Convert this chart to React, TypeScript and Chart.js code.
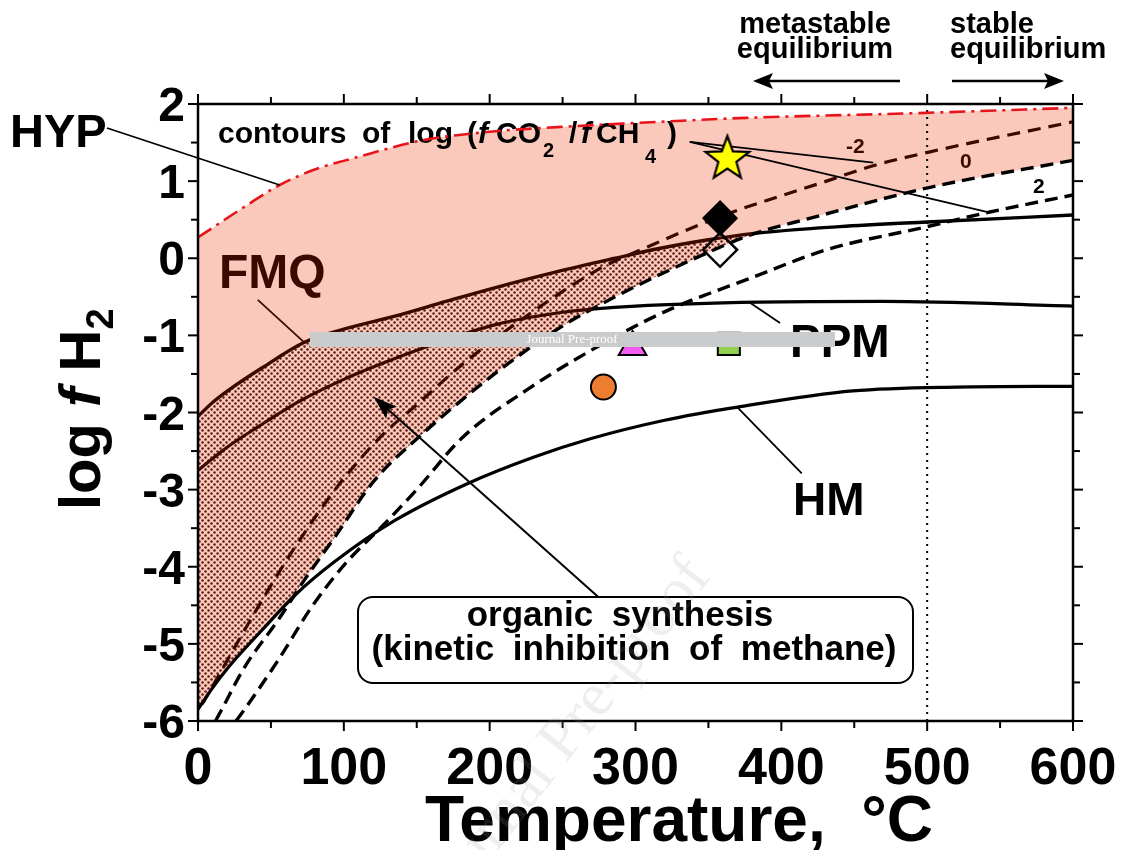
import { useEffect, useRef } from 'react';
import { Chart, registerables } from 'chart.js';

Chart.register(...registerables);

// ---------- axes ----------
const xTickValues = [0, 100, 200, 300, 400, 500, 600];
const yTickValues = [2, 1, 0, -1, -2, -3, -4, -5, -6];

// ---------- curves: temperature (°C) -> log fH2 ----------
const hypT = [0, 28, 56, 80, 109, 154, 200, 246, 296, 376, 490, 600];
const hypY = [0.27, 0.62, 0.95, 1.15, 1.31, 1.53, 1.64, 1.7, 1.75, 1.82, 1.88, 1.95];

const fmqT = [0, 10, 21, 44, 73, 100, 135, 170, 204, 245, 286, 317, 350, 380, 440, 500, 600];
const fmqY = [-2.05, -1.87, -1.71, -1.42, -1.09, -0.92, -0.75, -0.56, -0.38, -0.18, 0.0, 0.13, 0.24, 0.32, 0.41, 0.47, 0.56];

const ppmT = [0, 20, 40, 70, 100, 135, 170, 204, 250, 270, 300, 385, 470, 600];
const ppmY = [-2.75, -2.45, -2.2, -1.85, -1.57, -1.3, -1.06, -0.86, -0.7, -0.66, -0.62, -0.57, -0.56, -0.62];

const hmT = [0, 10, 21, 44, 67, 94, 135, 185, 230, 269, 320, 370, 449, 520, 600];
const hmY = [-5.85, -5.57, -5.3, -4.82, -4.36, -3.93, -3.4, -2.92, -2.58, -2.34, -2.1, -1.93, -1.72, -1.67, -1.66];

// contours of log(fCO2/fCH4)
const minus2T = [3, 25, 45, 66, 94, 126, 150, 181, 226, 277, 305, 358, 431, 463, 502, 600];
const minus2Y = [-5.78, -5.05, -4.4, -3.76, -3.0, -2.3, -1.9, -1.38, -0.74, -0.12, 0.12, 0.54, 1.0, 1.2, 1.38, 1.77];

const zeroT = [12, 16, 32, 55, 73, 94, 121, 149, 204, 249, 286, 351, 380, 422, 502, 600];
const zeroY = [-6.0, -5.86, -5.3, -4.69, -4.17, -3.61, -2.88, -2.36, -1.49, -0.89, -0.5, 0.085, 0.31, 0.53, 0.92, 1.27];

const plus2T = [26, 30, 55, 78, 101, 126, 150, 181, 226, 286, 324, 380, 431, 500, 543, 600];
const plus2Y = [-6.0, -5.9, -5.21, -4.52, -3.96, -3.48, -3.0, -2.33, -1.7, -1.02, -0.66, -0.25, 0.11, 0.41, 0.6, 0.82];

const stableBoundaryT = [500, 500];
const stableBoundaryY = [-6, 2];

// colour switch (curve leaves the shaded field)
const fmqBrownUntil = 380;
const ppmBrownUntil = 270;

// ---------- sample markers ----------
const starPoint = [{ x: 363, y: 1.3 }];
const filledDiamondPoint = [{ x: 358, y: 0.52 }];
const openDiamondPoint = [{ x: 358, y: 0.11 }];
const trianglePoint = [{ x: 298, y: -1.15 }];
const squarePoint = [{ x: 364, y: -1.11 }];
const circlePoint = [{ x: 278, y: -1.67 }];

// ---------- annotation layout (data units) ----------
const leaderLines = [
  [41, -0.54, 73.4, -1.1],
  [378.8, -0.58, 399.1, -0.84],
  [369.4, -1.925, 414, -2.79],
  [337.2, 1.51, 463, 1.24],
  [337.2, 1.51, 543, 0.59],
];
const hypLeaderEnd = [56, 0.95];
const organicArrow = [274.3, -4.39, 120.4, -1.795];

// ---------- styles ----------
const BROWN = '#3b0900';
const PINK = 'rgb(251,201,187)';
const RED = '#e8141c';
const SANS = '"Liberation Sans", Arial, Helvetica, sans-serif';
const SERIF = '"Liberation Serif", "Times New Roman", serif';

const zip = (t: number[], y: number[]) => t.map((v, i) => ({ x: v, y: y[i] }));

function makeStipple(ctx: CanvasRenderingContext2D) {
  const c = document.createElement('canvas');
  c.width = 6;
  c.height = 6;
  const g = c.getContext('2d')!;
  g.fillStyle = PINK;
  g.fillRect(0, 0, 6, 6);
  g.fillStyle = '#5e1a10';
  [[1.5, 1.5], [4.5, 4.5]].forEach(([x, y]) => {
    g.beginPath();
    g.arc(x, y, 1.25, 0, Math.PI * 2);
    g.fill();
  });
  return ctx.createPattern(c, 'repeat')!;
}

function makeStar() {
  const c = document.createElement('canvas');
  c.width = 52;
  c.height = 52;
  const g = c.getContext('2d')!;
  const cx = 26, cy = 27, R = 23, r = 9.5;
  g.beginPath();
  for (let i = 0; i < 10; i++) {
    const rad = (Math.PI / 5) * i - Math.PI / 2;
    const rr = i % 2 === 0 ? R : r;
    const x = cx + Math.cos(rad) * rr;
    const y = cy + Math.sin(rad) * rr;
    if (i === 0) g.moveTo(x, y);
    else g.lineTo(x, y);
  }
  g.closePath();
  g.fillStyle = '#ffff00';
  g.fill();
  g.lineWidth = 2.2;
  g.lineJoin = 'miter';
  g.strokeStyle = '#000';
  g.stroke();
  return c;
}

function trace(ctx: CanvasRenderingContext2D, pts: any[], move = true) {
  pts.forEach((p, i) => {
    if (i === 0) {
      if (move) ctx.moveTo(p.x, p.y);
      else ctx.lineTo(p.x, p.y);
      return;
    }
    const q = pts[i - 1];
    ctx.bezierCurveTo(q.cp2x ?? q.x, q.cp2y ?? q.y, p.cp1x ?? p.x, p.cp1y ?? p.y, p.x, p.y);
  });
}

function line(ctx: CanvasRenderingContext2D, x1: number, y1: number, x2: number, y2: number) {
  ctx.beginPath();
  ctx.moveTo(x1, y1);
  ctx.lineTo(x2, y2);
  ctx.stroke();
}

function arrowHead(ctx: CanvasRenderingContext2D, x1: number, y1: number, x2: number, y2: number, len: number, half: number) {
  const a = Math.atan2(y2 - y1, x2 - x1);
  ctx.beginPath();
  ctx.moveTo(x2, y2);
  ctx.lineTo(x2 - len * Math.cos(a) + half * Math.sin(a), y2 - len * Math.sin(a) - half * Math.cos(a));
  ctx.lineTo(x2 - len * 0.8 * Math.cos(a), y2 - len * 0.8 * Math.sin(a));
  ctx.lineTo(x2 - len * Math.cos(a) - half * Math.sin(a), y2 - len * Math.sin(a) + half * Math.cos(a));
  ctx.closePath();
  ctx.fill();
}

function text(ctx: CanvasRenderingContext2D, s: string, x: number, y: number, font: string, color = '#000', align: CanvasTextAlign = 'left') {
  ctx.font = font;
  ctx.fillStyle = color;
  ctx.textAlign = align;
  ctx.textBaseline = 'alphabetic';
  ctx.fillText(s, x, y);
}

export default function App() {
  const ref = useRef<HTMLCanvasElement>(null);

  useEffect(() => {
    const canvas = ref.current!;
    const c2d = canvas.getContext('2d')!;
    const stipple = makeStipple(c2d);
    const star = makeStar();

    const lineDs = (label: string, T: number[], Y: number[], color: string, width: number, dash: number[] = [], extra: any = {}) => ({
      label,
      data: zip(T, Y),
      borderColor: color,
      borderWidth: width,
      borderDash: dash,
      pointRadius: 0,
      pointHoverRadius: 0,
      showLine: true,
      fill: false,
      cubicInterpolationMode: 'monotone',
      ...extra,
    });

    const markerDs = (label: string, data: any[], style: any, radius: number, bg: string, bw: number) => ({
      label,
      data,
      showLine: false,
      pointStyle: style,
      pointRadius: radius,
      pointHoverRadius: radius,
      pointBackgroundColor: bg,
      pointBorderColor: '#000',
      pointBorderWidth: bw,
    });

    const fieldPlugin = {
      id: 'fields',
      beforeDatasetsDraw(chart: any) {
        const { ctx, chartArea: a, scales } = chart;
        const X = (v: number) => scales.x.getPixelForValue(v);
        const Y = (v: number) => scales.y.getPixelForValue(v);
        const P = (label: string) => {
          const i = chart.data.datasets.findIndex((d: any) => d.label === label);
          const m = chart.getDatasetMeta(i);
          if (m.dataset && m.dataset.updateControlPoints) m.dataset.updateControlPoints(a, 'x');
          return m.data as any[];
        };
        const hm = P('HM'), zero = P('zero'), hyp = P('HYP'), fmq = P('FMQ');
        const L = a.left - 20, R = a.right + 20, T = a.top - 20, B = a.bottom + 20;

        ctx.save();
        ctx.beginPath();
        ctx.rect(a.left, a.top, a.right - a.left, a.bottom - a.top);
        ctx.clip();
        // above HM
        ctx.beginPath();
        ctx.moveTo(L, hm[0].y);
        trace(ctx, hm, false);
        ctx.lineTo(R, hm[hm.length - 1].y);
        ctx.lineTo(R, T);
        ctx.lineTo(L, T);
        ctx.closePath();
        ctx.clip();
        // above the "0" contour
        ctx.beginPath();
        ctx.moveTo(L, B);
        ctx.lineTo(zero[0].x, B);
        trace(ctx, zero, false);
        ctx.lineTo(R, zero[zero.length - 1].y);
        ctx.lineTo(R, T);
        ctx.lineTo(L, T);
        ctx.closePath();
        ctx.clip();
        // pink field below HYP
        ctx.beginPath();
        ctx.moveTo(L, hyp[0].y);
        trace(ctx, hyp, false);
        ctx.lineTo(R, hyp[hyp.length - 1].y);
        ctx.lineTo(R, B);
        ctx.lineTo(L, B);
        ctx.closePath();
        ctx.fillStyle = PINK;
        ctx.fill();
        // stippled field below FMQ
        ctx.beginPath();
        ctx.moveTo(L, fmq[0].y);
        trace(ctx, fmq, false);
        ctx.lineTo(R, fmq[fmq.length - 1].y);
        ctx.lineTo(R, B);
        ctx.lineTo(L, B);
        ctx.closePath();
        ctx.fillStyle = stipple;
        ctx.fill();
        ctx.restore();

        // ---- labels and leaders inside plot ----
        ctx.save();
        ctx.strokeStyle = '#000';
        ctx.lineWidth = 1.8;
        leaderLines.forEach(([x1, y1, x2, y2], i) => {
          ctx.strokeStyle = i === 0 ? BROWN : '#000';
          line(ctx, X(x1), Y(y1), X(x2), Y(y2));
        });
        // contours label
        const B1 = 143;
        const f30 = `bold 30px ${SANS}`;
        const fi30 = `italic bold 30px ${SANS}`;
        const f21 = `bold 20px ${SANS}`;
        text(ctx, 'contours', 218, B1, f30);
        text(ctx, 'of', 362, B1, f30);
        text(ctx, 'log', 408, B1, f30);
        text(ctx, '(', 467, B1, f30);
        text(ctx, 'f', 478, B1, fi30);
        text(ctx, 'CO', 496, B1, f30);
        text(ctx, '2', 543, B1 + 14, f21);
        text(ctx, '/', 569, B1, f30);
        text(ctx, 'f', 581, B1, fi30);
        text(ctx, 'CH', 596, B1, f30);
        text(ctx, '4', 645, B1 + 20, f21);
        text(ctx, ')', 667, B1, f30);
        // contour values
        const f22 = `bold 21px ${SANS}`;
        text(ctx, '-2', 846, 153, f22, BROWN);
        text(ctx, '0', 960, 168, f22, BROWN);
        text(ctx, '2', 1033, 193, f22);
        // curve names
        text(ctx, 'FMQ', 219, 288, `bold 48px ${SANS}`, BROWN);
        text(ctx, 'PPM', 790, 357, `bold 46px ${SANS}`);
        text(ctx, 'HM', 793, 515, `bold 46px ${SANS}`);
        // organic synthesis box
        ctx.lineWidth = 2;
        ctx.strokeStyle = '#000';
        ctx.beginPath();
        (ctx as any).roundRect(358, 597, 555, 86, 15);
        ctx.stroke();
        (ctx as any).wordSpacing = '9px';
        text(ctx, 'organic synthesis', 620, 626, `bold 35px ${SANS}`, '#000', 'center');
        text(ctx, '(kinetic inhibition of methane)', 634, 660, `bold 35px ${SANS}`, '#000', 'center');
        (ctx as any).wordSpacing = '0px';
        const [ax1, ay1, ax2, ay2] = organicArrow;
        ctx.lineWidth = 2;
        line(ctx, X(ax1), Y(ay1), X(ax2) + 8, Y(ay2) + 7);
        ctx.fillStyle = '#000';
        arrowHead(ctx, X(ax1), Y(ay1), X(ax2), Y(ay2), 24, 8);
        ctx.restore();
      },
      afterDraw(chart: any) {
        const { ctx, chartArea: a, scales } = chart;
        const X = (v: number) => scales.x.getPixelForValue(v);
        const Y = (v: number) => scales.y.getPixelForValue(v);
        ctx.save();
        // ticks (outward)
        ctx.strokeStyle = '#000';
        ctx.lineWidth = 2;
        for (let t = 0; t <= 600; t += 50) {
          const len = t % 100 === 0 ? 10 : 7;
          line(ctx, X(t), a.bottom, X(t), a.bottom + len);
          line(ctx, X(t), a.top, X(t), a.top - len);
        }
        for (let v = -6; v <= 2; v += 0.5) {
          const len = Number.isInteger(v) ? 10 : 7;
          line(ctx, a.left - len, Y(v), a.left, Y(v));
          line(ctx, a.right, Y(v), a.right + len, Y(v));
        }
        // frame
        ctx.lineWidth = 2.5;
        ctx.strokeRect(a.left, a.top, a.right - a.left, a.bottom - a.top);

        // tick labels
        xTickValues.forEach((t) => text(ctx, String(t), X(t), a.bottom + 63, `bold 52px ${SANS}`, '#000', 'center'));
        yTickValues.forEach((v) => text(ctx, String(v), a.left - 13, Y(v) + 17, `bold 48px ${SANS}`, '#000', 'right'));

        // axis titles
        text(ctx, 'Temperature,  \u00B0C', 679, 841, `bold 64px ${SANS}`, '#000', 'center');
        ctx.save();
        ctx.translate(100, 510);
        ctx.rotate(-Math.PI / 2);
        let cx = 0;
        const run = (s: string, font: string, dy = 0) => {
          ctx.font = font;
          ctx.fillStyle = '#000';
          ctx.textAlign = 'left';
          ctx.fillText(s, cx, dy);
          cx += ctx.measureText(s).width;
        };
        run('log ', `bold 58px ${SANS}`);
        run('f', `italic bold 58px ${SANS}`);
        run(' H', `bold 58px ${SANS}`);
        run('2', `bold 38px ${SANS}`, 13);
        ctx.restore();

        // HYP label + leader
        text(ctx, 'HYP', 10, 147, `bold 47px ${SANS}`);
        ctx.lineWidth = 1.8;
        line(ctx, 107, 128, X(hypLeaderEnd[0]), Y(hypLeaderEnd[1]));

        // equilibrium labels
        const f29 = `bold 29px ${SANS}`;
        text(ctx, 'metastable', 815, 33, f29, '#000', 'center');
        text(ctx, 'equilibrium', 815, 58, f29, '#000', 'center');
        text(ctx, 'stable', 950, 33, f29);
        text(ctx, 'equilibrium', 950, 58, f29);
        ctx.lineWidth = 2.5;
        line(ctx, 900, 81, 768, 81);
        arrowHead(ctx, 900, 81, 753, 81, 20, 8);
        line(ctx, 952, 81, 1050, 81);
        arrowHead(ctx, 952, 81, 1064, 81, 20, 8);

        // faint diagonal watermark
        ctx.save();
        ctx.translate(578, 748);
        ctx.rotate((-52 * Math.PI) / 180);
        text(ctx, 'Journal Pre-proof', 0, 0, `62px ${SERIF}`, 'rgba(150,150,150,0.16)', 'center');
        ctx.restore();

        // grey banner
        ctx.fillStyle = '#cacbcd';
        ctx.fillRect(310, 332, 525, 15);
        ctx.font = `13px ${SERIF}`;
        ctx.fillStyle = '#ffffff';
        ctx.textAlign = 'center';
        ctx.textBaseline = 'middle';
        ctx.fillText('Journal Pre-proof', 572, 340);
        ctx.restore();
      },
    };

    const chart = new Chart(canvas, {
      type: 'line',
      data: {
        datasets: [
          markerDs('star', starPoint, star, 20, '#ffff00', 2),
          markerDs('filledDiamond', filledDiamondPoint, 'rectRot', 17, '#000', 1.5),
          markerDs('openDiamond', openDiamondPoint, 'rectRot', 17, 'rgba(0,0,0,0)', 2.5),
          markerDs('triangle', trianglePoint, 'triangle', 16, '#f25cf2', 2),
          markerDs('square', squarePoint, 'rect', 15.6, '#92d050', 2),
          markerDs('circle', circlePoint, 'circle', 12.5, '#ed7d31', 2),
          lineDs('HYP', hypT, hypY, RED, 2.6, [16, 6, 3, 6]),
          lineDs('FMQ', fmqT, fmqY, BROWN, 3.4, [], {
            segment: { borderColor: (c: any) => (c.p0.parsed.x < fmqBrownUntil ? BROWN : '#000') },
          }),
          lineDs('PPM', ppmT, ppmY, BROWN, 3.2, [], {
            segment: { borderColor: (c: any) => (c.p0.parsed.x < ppmBrownUntil ? BROWN : '#000') },
          }),
          lineDs('HM', hmT, hmY, '#000', 3.2),
          lineDs('minus2', minus2T, minus2Y, BROWN, 3.2, [13, 8]),
          lineDs('zero', zeroT, zeroY, '#000', 3.4, [13, 7]),
          lineDs('plus2', plus2T, plus2Y, '#000', 3.4, [13, 7]),
          lineDs('boundary', stableBoundaryT, stableBoundaryY, '#000', 2, [2, 5], { cubicInterpolationMode: 'default', tension: 0 }),
        ] as any,
      },
      options: {
        animation: false,
        responsive: false,
        devicePixelRatio: 1,
        events: [],
        layout: { padding: { left: 0, right: 58, top: 104, bottom: 0 } },
        plugins: { legend: { display: false }, tooltip: { enabled: false } },
        scales: {
          x: {
            type: 'linear',
            min: 0,
            max: 600,
            grid: { display: false, drawTicks: false },
            border: { display: false },
            ticks: { display: false },
            afterFit: (s: any) => {
              s.height = 129;
            },
          },
          y: {
            type: 'linear',
            min: -6,
            max: 2,
            grid: { display: false, drawTicks: false },
            border: { display: false },
            ticks: { display: false },
            afterFit: (s: any) => {
              s.width = 198;
            },
          },
        },
      } as any,
      plugins: [fieldPlugin],
    });

    return () => chart.destroy();
  }, []);

  return (
    <div style={{ position: 'absolute', left: 0, top: 0, width: 1131, height: 850, background: '#fff' }}>
      <canvas ref={ref} width={1131} height={850} style={{ display: 'block', width: 1131, height: 850 }} />
    </div>
  );
}
